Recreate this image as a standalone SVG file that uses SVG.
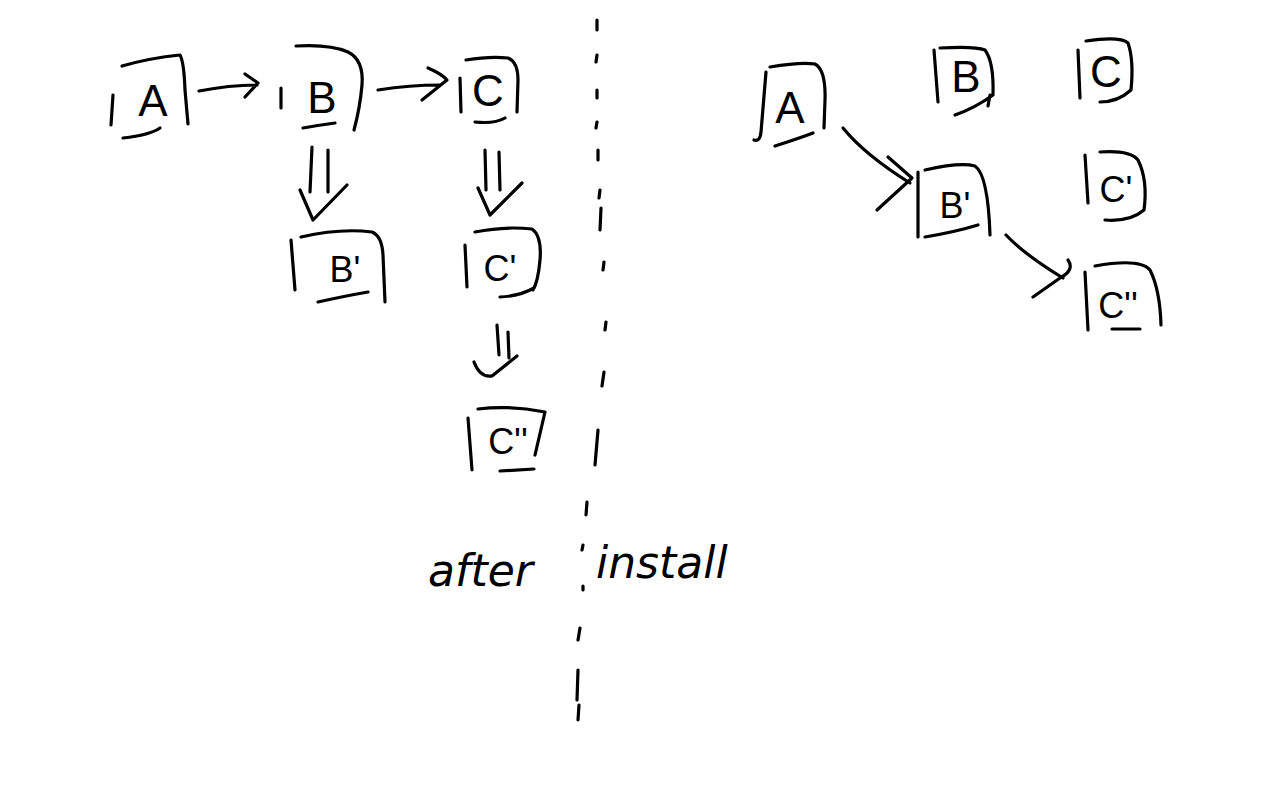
<svg xmlns="http://www.w3.org/2000/svg" width="1280" height="800" viewBox="0 0 1280 800">
<style>
.s{fill:none;stroke:#000;stroke-width:3.2;stroke-linecap:round;stroke-linejoin:round}
.t{font-family:"Liberation Sans","DejaVu Sans",sans-serif;fill:#000;text-anchor:middle}
.n{font-size:44px}
.m{font-size:36px}
.w{font-size:44px;font-family:"DejaVu Sans","Liberation Sans",sans-serif;fill:#000;font-style:italic}
</style>
<rect width="1280" height="800" fill="#fff"/>
<g id="left-A"><path class="s" d="M113,95 L111,125 M122,66 Q150,58 180,55 Q184,62 185,90 L188,124 M123,138 Q150,135 160,128"/><text class="t n" x="153" y="116">A</text></g>
<g id="left-B"><path class="s" d="M281,88 L281,108 M296,46 Q330,44 348,52 Q364,60 362,85 Q360,108 354,130 M303,128 Q320,125 335,123"/><text class="t n" x="322" y="113">B</text></g>
<g id="left-C"><path class="s" d="M460,78 L461,112 M466,60 Q490,56 508,58 Q518,62 518,80 L517,112 M475,122 Q495,124 505,118"/><text class="t n" x="488" y="106">C</text></g>
<g id="left-B1"><path class="s" d="M291,240 L295,290 M301,237 Q340,228 372,232 Q382,236 383,255 L385,302 M318,302 Q345,296 368,292"/><text class="t m" x="345" y="282">B'</text></g>
<g id="left-C1"><path class="s" d="M465,245 L467,287 M475,232 Q505,226 532,229 Q542,236 540,260 Q538,282 533,290 M500,297 Q520,296 534,288"/><text class="t m" x="500" y="281">C'</text></g>
<g id="left-C2"><path class="s" d="M468,418 L472,470 M478,409 Q510,405 545,412 L535,455 M500,471 L534,469"/><text class="t m" x="508" y="454">C''</text></g>
<g id="right-A"><path class="s" d="M766,72 L761,132 Q760,142 754,140 M770,67 Q800,62 815,64 Q826,70 825,100 L824,128 M775,146 Q800,138 813,133"/><text class="t n" x="790" y="123">A</text></g>
<g id="right-B"><path class="s" d="M934,50 L938,102 M940,48 Q975,46 985,50 Q994,62 993,95 Q975,108 955,115 M990,95 L988,106"/><text class="t n" x="966" y="92" font-size="48">B</text></g>
<g id="right-C"><path class="s" d="M1078,50 L1080,98 M1086,41 Q1120,36 1128,43 Q1134,60 1131,90 Q1118,102 1100,102"/><text class="t n" x="1106" y="87">C</text></g>
<g id="right-C1"><path class="s" d="M1085,155 L1088,203 M1100,152 Q1130,150 1138,160 Q1148,180 1144,210 Q1130,222 1105,220"/><text class="t m" x="1116" y="202">C'</text></g>
<g id="right-B1"><path class="s" d="M918,172 L918,237 M925,170 Q960,162 975,166 Q988,175 990,235 M925,237 Q955,232 978,225"/><text class="t m" x="955" y="218">B'</text></g>
<g id="right-C2"><path class="s" d="M1085,272 L1088,330 M1095,266 Q1140,258 1150,270 Q1160,290 1161,325 M1112,329 L1140,329"/><text class="t m" x="1118" y="318">C''</text></g>
<g id="connectors">
<path class="s" d="M199,91 Q230,85 257,85 M245,74 L258,83 L245,97"/>
<path class="s" d="M378,90 Q410,85 440,85 M428,68 Q442,74 447,80 L422,100"/>
<path class="s" d="M312,147 L310,192 M328,150 L328,192 M300,190 L313,220 L347,185"/>
<path class="s" d="M485,150 L486,190 M499,152 L500,190 M478,188 L490,215 L522,183"/>
<path class="s" d="M497,325 L499,355 M508,332 L509,358 M474,362 Q480,378 492,376 L517,356"/>
<path class="s" d="M843,128 Q865,155 910,183 M888,157 L912,178 L877,210"/>
<path class="s" d="M1006,235 Q1025,255 1063,278 M1068,260 Q1075,270 1060,278 L1033,297"/>
<path class="s" d="M597,20 L597,30 M597,55 L596,62 M597,90 L597,98 M597,122 L596,128 M598,150 L598,160 M600,190 L599,198 M601,208 L600,230 M604,262 L603,270 M606,322 L605,330 M604,372 L602,386 M598,430 L595,465 M587,502 L586,515 M583,545 L582,550 M583,586 L583,590 M580,628 L578,640 M578,670 L577,700 M579,705 L578,720"/>
</g>
<text class="w" x="428" y="586">after</text>
<text class="w" x="596" y="578">install</text>
</svg>
